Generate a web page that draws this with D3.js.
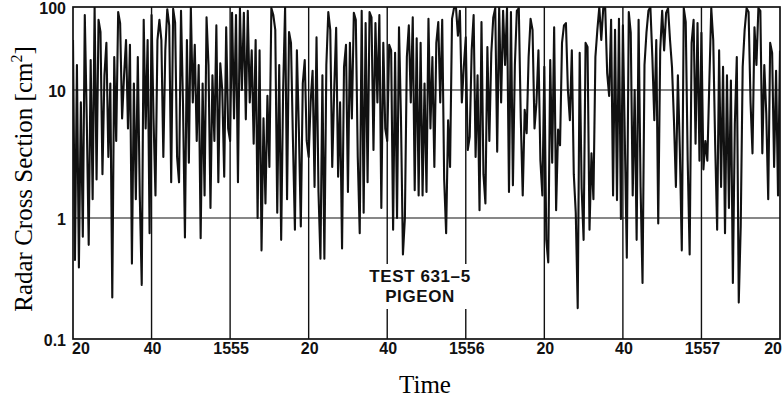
<!DOCTYPE html>
<html>
<head>
<meta charset="utf-8">
<script src="https://cdn.jsdelivr.net/npm/d3@7"></script>
<style>
	body { margin: 0; background: #fff; }
	svg { display: block; }
</style>
</head>
<body>
<script>
// RCS samples (cm^2), one array per 20 s span, 0.5 s apart
const seg0 = [40, 0.45, 20, 0.39, 8, 0.7, 80, 6, 0.6, 23, 1.4, 100, 2, 70, 50, 2.2, 15, 37, 3, 12,
	0.22, 25, 4, 87, 64, 6, 15, 40, 5, 35, 0.42, 12, 1.4, 25, 1.5, 0.28, 70, 5, 40, 0.75]
const seg1 = [80, 6, 1.5, 40, 70, 40, 3, 30, 94, 60, 1.9, 95, 65, 3, 1.9, 90, 8, 0.69, 40, 2.7,
	100, 8, 35, 4, 20, 0.68, 12, 1.5, 75, 20, 1.2, 15, 4, 60, 1.9, 21, 10, 2.1, 57, 5]
const seg2 = [4, 85, 6, 80, 1.9, 97, 10, 85, 5.9, 90, 8, 30, 3.8, 40, 1, 30, 0.54, 6, 1.3, 9,
	2.5, 97, 80, 53, 1.1, 20, 0.66, 10, 100, 1.4, 50, 37, 4, 0.8, 30, 5, 0.85, 12, 23, 4]
const seg3 = [3, 8, 17, 1.75, 43, 1.6, 0.46, 15, 0.46, 20, 87, 53, 2.5, 10, 56, 2.1, 8, 0.56, 19, 35,
	1.6, 37, 6, 85, 70, 3, 0.75, 90, 1.1, 64, 1.9, 87, 75, 3.4, 64, 8, 80, 1.2, 37, 5]
const seg4 = [4, 35, 30, 0.8, 28, 1, 57, 6, 0.5, 1, 25, 60, 8, 75, 1.65, 42, 1.5, 37, 1.5, 12,
	1.6, 72, 5, 25, 2.5, 37, 66, 8, 70, 2, 0.75, 5.8, 2.5, 72, 97, 100, 45, 90, 8, 19]
const seg5 = [43, 3.4, 4.3, 30, 80, 3, 15, 1.15, 66, 2.2, 1.3, 33, 4, 28, 75, 97, 3.3, 100, 8, 90,
	20, 97, 1.6, 87, 1.8, 20, 90, 97, 6, 1.5, 7, 4.6, 25, 72, 53, 5, 8, 30, 2.8, 1.5]
const seg6 = [19, 0.66, 0.43, 23, 2.7, 57, 1.15, 4.9, 3.7, 37, 60, 64, 10, 5.8, 30, 2.2, 1.1, 0.18, 28, 1.7,
	0.66, 37, 33, 0.8, 3.2, 1.4, 25, 53, 100, 40, 97, 97, 16, 9, 70, 1.5, 53, 1.38, 72, 0.98]
const seg7 = [60, 4, 0.47, 87, 49, 1.5, 10, 0.66, 70, 1.75, 0.29, 20, 49, 90, 100, 25, 5.8, 40, 0.9, 30,
	90, 30, 85, 97, 40, 19, 5.8, 1.75, 15, 3.4, 0.54, 97, 66, 2.8, 0.5, 37, 70, 3.8, 64, 2.8]
const seg8 = [49, 2.4, 4, 2.8, 12, 97, 40, 3.7, 0.8, 30, 1.75, 19, 0.75, 15, 1.2, 13, 0.29, 5.4, 25, 0.2,
	0.85, 19, 53, 97, 87, 8, 3.2, 57, 20, 97, 90, 3.2, 20, 6.6, 1.4, 37, 28, 2.5, 17, 1.5, 30]

const tickTimes = [20, 40, 60, 80, 100, 120, 140, 160, 180, 200]
const tickLabels = ["20", "40", "1555", "20", "40", "1556", "20", "40", "1557", "20"]
const yTicks = [0.1, 1, 10, 100]
const yTickLabels = ["0.1", "1", "10", "100"]
const noteLines = ["TEST 631\u20135", "PIGEON"]

;(() => {
	var width = 782, height = 402
	var svg = d3.select("body").append("svg")
		.attr("width", width)
		.attr("height", height)
		.style("background", "#fff")

	// scanned axis is not quite logarithmic, so map each decade on its own
	var y = d3.scaleLog().domain([0.1, 1, 10, 100]).range([339, 218, 90, 7])
	var x = d3.scaleLinear().domain([20, 200]).range([73, 780])
	var plotLeft = x.range()[0], plotRight = x.range()[1]
	var plotTop = y(100), plotBottom = y(0.1)

	var segments = [seg0, seg1, seg2, seg3, seg4, seg5, seg6, seg7, seg8]
	var trace = segments.flatMap((seg, s) => seg.map((v, i) => ({ t: 20 + 20 * s + 0.5 * i, v: v })))

	svg.append("clipPath").attr("id", "plot-clip")
		.append("rect")
		.attr("x", plotLeft).attr("y", plotTop)
		.attr("width", plotRight - plotLeft).attr("height", plotBottom - plotTop)

	// note in the lower middle
	var note = svg.append("g").attr("class", "note")
	note.selectAll("text")
		.data(noteLines)
		.enter().append("text")
		.attr("x", 420)
		.attr("y", (d, i) => 282 + i * 20)
		.attr("text-anchor", "middle")
		.attr("font-family", "Liberation Sans, Arial, sans-serif")
		.attr("font-weight", "bold")
		.attr("font-size", 17)
		.attr("letter-spacing", 0.6)
		.attr("fill", "#111")
		.text((d) => d)
	var nb = note.node().getBBox()
	var gapTop = nb.y - 3, gapBottom = nb.y + nb.height + 3

	// horizontal grid
	svg.selectAll(".hgrid")
		.data([1, 10])
		.enter().append("line")
		.attr("class", "hgrid")
		.attr("x1", plotLeft).attr("x2", plotRight)
		.attr("y1", (d) => y(d)).attr("y2", (d) => y(d))
		.attr("stroke", "#111").attr("stroke-width", 1.2)

	// vertical grid, broken where the note sits
	var vgrid = []
	tickTimes.slice(1, -1).forEach((t) => {
		var px = x(t)
		if (px >= nb.x - 4 && px <= nb.x + nb.width + 4) {
			vgrid.push({ x: px, y1: plotTop, y2: gapTop })
			vgrid.push({ x: px, y1: gapBottom, y2: plotBottom })
		} else {
			vgrid.push({ x: px, y1: plotTop, y2: plotBottom })
		}
	})
	svg.selectAll(".vgrid")
		.data(vgrid)
		.enter().append("line")
		.attr("class", "vgrid")
		.attr("x1", (d) => d.x).attr("x2", (d) => d.x)
		.attr("y1", (d) => d.y1).attr("y2", (d) => d.y2)
		.attr("stroke", "#111").attr("stroke-width", 1.4)

	// the trace
	var line = d3.line().x((d) => x(d.t)).y((d) => y(d.v))
	svg.append("path")
		.datum(trace)
		.attr("clip-path", "url(#plot-clip)")
		.attr("d", line)
		.attr("fill", "none")
		.attr("stroke", "#111")
		.attr("stroke-width", 2.1)
		.attr("stroke-linejoin", "round")

	// frame
	svg.append("rect")
		.attr("x", plotLeft).attr("y", plotTop)
		.attr("width", plotRight - plotLeft).attr("height", plotBottom - plotTop)
		.attr("fill", "none")
		.attr("stroke", "#111")
		.attr("stroke-width", 1.7)

	// y tick labels
	svg.selectAll(".ylab")
		.data(yTicks)
		.enter().append("text")
		.attr("class", "ylab")
		.attr("x", plotLeft - 7)
		.attr("y", (d) => y(d) + 1)
		.attr("text-anchor", "end")
		.attr("dominant-baseline", "central")
		.attr("font-family", "Liberation Sans, Arial, sans-serif")
		.attr("font-weight", "bold")
		.attr("font-size", 16)
		.attr("fill", "#111")
		.text((d, i) => yTickLabels[i])

	// x tick labels
	var last = tickTimes.length - 1
	svg.selectAll(".xlab")
		.data(tickTimes)
		.enter().append("text")
		.attr("class", "xlab")
		.attr("x", (d, i) => i === 0 ? x(d) - 1 : i === last ? x(d) + 2 : x(d) + 1)
		.attr("y", plotBottom + 15)
		.attr("text-anchor", (d, i) => i === 0 ? "start" : i === last ? "end" : "middle")
		.attr("font-family", "Liberation Sans, Arial, sans-serif")
		.attr("font-weight", "bold")
		.attr("font-size", 16)
		.attr("fill", "#111")
		.text((d, i) => tickLabels[i])

	// axis titles
	svg.append("text")
		.attr("x", 425)
		.attr("y", 393)
		.attr("text-anchor", "middle")
		.attr("font-family", "Liberation Serif, Times New Roman, serif")
		.attr("font-size", 25)
		.attr("fill", "#000")
		.text("Time")

	var ytitle = svg.append("text")
		.attr("transform", "translate(32,179) rotate(-90)")
		.attr("text-anchor", "middle")
		.attr("font-family", "Liberation Serif, Times New Roman, serif")
		.attr("font-size", 25)
		.attr("fill", "#000")
	ytitle.append("tspan").text("Radar Cross Section [cm")
	ytitle.append("tspan").attr("dy", -10).attr("font-size", 16).text("2")
	ytitle.append("tspan").attr("dy", 10).text("]")
})()
</script>
</body>
</html>
